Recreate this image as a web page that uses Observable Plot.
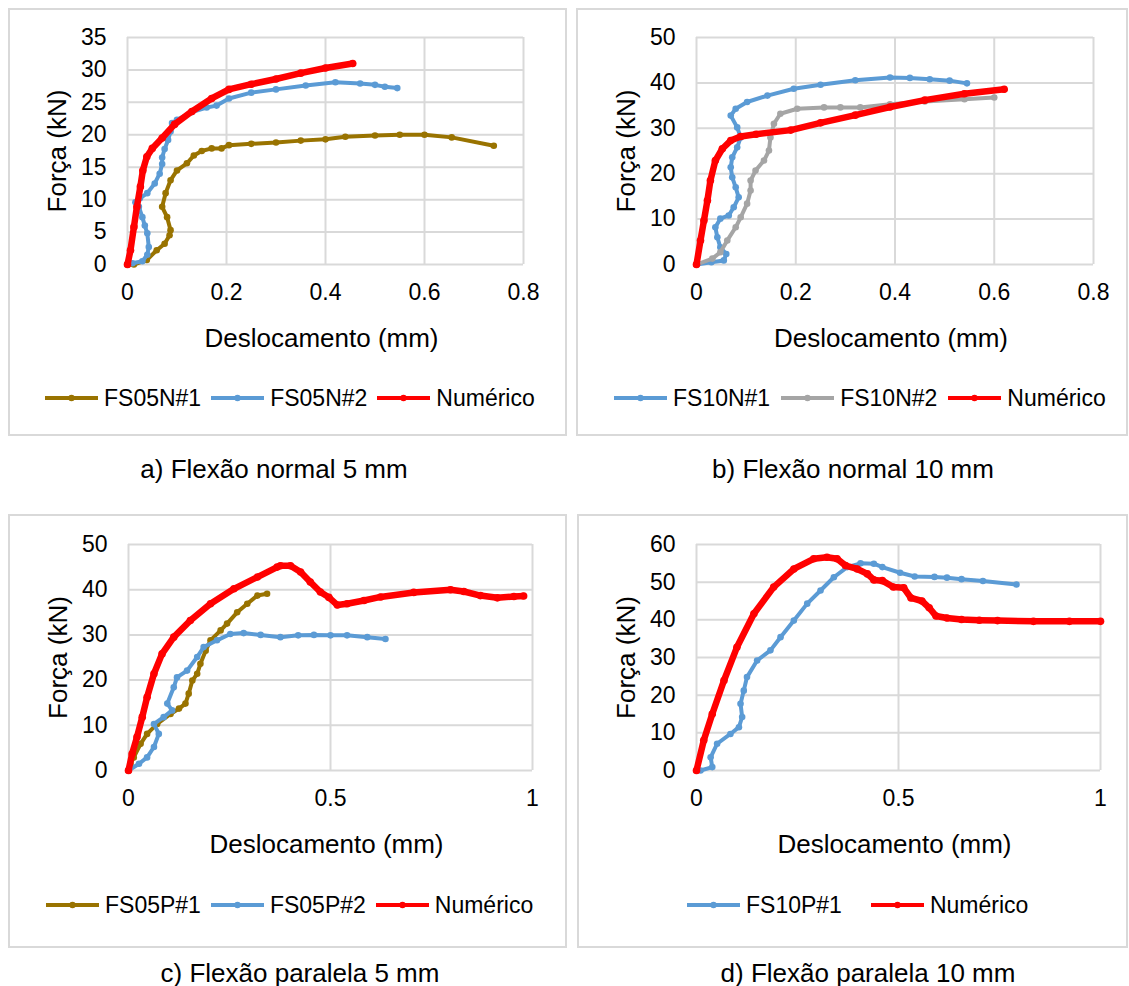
<!DOCTYPE html>
<html><head><meta charset="utf-8">
<script src="https://cdn.jsdelivr.net/npm/d3@7"></script>
<script src="https://cdn.jsdelivr.net/npm/@observablehq/plot@0.6"></script>
<style>
html,body{margin:0;padding:0;background:#fff;}
body{width:1129px;height:986px;position:relative;overflow:hidden;font-family:"Liberation Sans",Arial,sans-serif;color:#000;}
.box{position:absolute;border:2px solid #d9d9d9;box-sizing:border-box;}
.chart{position:absolute;}
.legend{position:absolute;display:flex;align-items:center;font-size:23px;line-height:23px;height:23px;white-space:nowrap;}
.legend .item{display:flex;align-items:center;}
.legend svg{display:block;margin-right:6px;}
.caption{position:absolute;font-size:26px;line-height:26px;white-space:nowrap;transform:translateX(-50%);}
</style></head><body>
<script>
// ---------- tick values ----------
const xTicksN = [0, 0.2, 0.4, 0.6, 0.8];
const xTicksP = [0, 0.5, 1];
const yTicksA = [0, 5, 10, 15, 20, 25, 30, 35];
const yTicksB = [0, 10, 20, 30, 40, 50];
const yTicksC = [0, 10, 20, 30, 40, 50];
const yTicksD = [0, 10, 20, 30, 40, 50, 60];

// ---------- series labels & colours ----------
const labelsA = ["FS05N#1", "FS05N#2", "Numérico"];
const labelsB = ["FS10N#1", "FS10N#2", "Numérico"];
const labelsC = ["FS05P#1", "FS05P#2", "Numérico"];
const labelsD = ["FS10P#1", "Numérico"];
const colorsA = ["#997300", "#5B9BD5", "#FF0000"];
const colorsB = ["#5B9BD5", "#A5A5A5", "#FF0000"];
const colorsC = ["#997300", "#5B9BD5", "#FF0000"];
const colorsD = ["#5B9BD5", "#FF0000"];
const captions = ["a) Flexão normal 5 mm", "b) Flexão normal 10 mm", "c) Flexão paralela 5 mm", "d) Flexão paralela 10 mm"];
const xTitle = "Deslocamento (mm)";
const yTitle = "Força (kN)";

// ---------- data: [deslocamento (mm), força (kN)] ----------
const fs05n1 = [[0,0],[0.013,0],[0.039,0.7],[0.059,2.2],[0.075,3.2],[0.085,4.5],[0.087,5.3],[0.08,7.3],[0.07,8.9],[0.077,11],[0.087,13],[0.1,14.5],[0.12,15.6],[0.134,16.8],[0.15,17.5],[0.17,17.9],[0.19,17.9],[0.205,18.4],[0.25,18.6],[0.3,18.8],[0.35,19.1],[0.4,19.3],[0.44,19.7],[0.5,19.9],[0.55,20.0],[0.6,20.0],[0.655,19.6],[0.74,18.3]];
const fs05n2 = [[0,0],[0.01,0.2],[0.03,0.5],[0.04,1.5],[0.043,2.7],[0.04,4.8],[0.035,6],[0.03,7.3],[0.023,8.9],[0.016,9.6],[0.025,10.2],[0.04,11],[0.055,12.5],[0.065,14],[0.07,15.5],[0.07,16.5],[0.075,17.8],[0.082,19.2],[0.087,20.5],[0.09,21.8],[0.1,22.3],[0.13,23.5],[0.16,24.2],[0.18,24.5],[0.205,25.6],[0.25,26.5],[0.3,27],[0.36,27.6],[0.42,28.1],[0.47,27.9],[0.5,27.7],[0.52,27.4],[0.545,27.2]];
const numA = [[0,0],[0.006,2.2],[0.013,5.8],[0.019,8.9],[0.026,12],[0.031,14.5],[0.039,16.6],[0.05,17.9],[0.07,19.5],[0.095,21.6],[0.13,23.6],[0.17,25.6],[0.205,27],[0.25,27.8],[0.3,28.6],[0.35,29.5],[0.4,30.3],[0.455,31.0]];

const fs10n1 = [[0,0],[0.03,0.5],[0.055,0.9],[0.06,2.3],[0.048,3.8],[0.042,6],[0.038,8.2],[0.048,10.1],[0.065,10.8],[0.075,12.6],[0.085,14.8],[0.079,17],[0.072,19.2],[0.069,21.4],[0.072,23.6],[0.082,25.8],[0.089,28],[0.082,30.2],[0.069,32.8],[0.079,34.3],[0.102,35.8],[0.143,37.2],[0.196,38.7],[0.25,39.6],[0.32,40.6],[0.39,41.2],[0.43,41.1],[0.47,40.8],[0.51,40.5],[0.545,39.9]];
const fs10n2 = [[0,0],[0.032,1.3],[0.048,2.7],[0.062,5.3],[0.079,8.2],[0.089,10.4],[0.102,13.4],[0.109,16.3],[0.109,18.5],[0.119,20.7],[0.136,22.9],[0.146,25.1],[0.149,28],[0.156,31],[0.169,33.2],[0.203,34.3],[0.257,34.6],[0.29,34.6],[0.33,34.6],[0.39,35.3],[0.46,35.9],[0.54,36.4],[0.6,36.8]];
const numB = [[0,0],[0.008,5.3],[0.015,9.7],[0.022,14.1],[0.028,18.5],[0.038,22.9],[0.052,25.5],[0.069,27.3],[0.089,28.2],[0.12,28.7],[0.19,29.6],[0.25,31.2],[0.32,32.9],[0.39,34.7],[0.46,36.2],[0.54,37.6],[0.62,38.6]];

const fs05p1 = [[0,0],[0.005,1.5],[0.013,2.9],[0.03,5.9],[0.046,8.1],[0.071,10.3],[0.104,12.5],[0.125,13.7],[0.141,14.8],[0.149,17],[0.158,19.9],[0.17,21.4],[0.178,23.6],[0.191,26.5],[0.203,28.8],[0.228,31],[0.244,32.5],[0.269,35],[0.294,36.9],[0.319,38.7],[0.343,39.1]];
const fs05p2 = [[0,0],[0.026,1.5],[0.046,2.9],[0.063,5.2],[0.075,8.1],[0.063,10.3],[0.087,11.8],[0.108,13.3],[0.096,14.8],[0.112,18.4],[0.12,20.6],[0.145,22.1],[0.17,25.1],[0.186,27.3],[0.219,28.8],[0.252,30.2],[0.285,30.4],[0.327,30.0],[0.376,29.5],[0.42,29.9],[0.459,30.0],[0.5,29.9],[0.541,29.9],[0.591,29.5],[0.636,29.1]];
const numC = [[0,0],[0.009,3.7],[0.021,7.4],[0.034,11.8],[0.046,16.2],[0.063,21.4],[0.083,25.8],[0.112,29.5],[0.153,33.2],[0.203,36.9],[0.261,40.2],[0.319,42.8],[0.368,45],[0.376,45.3],[0.401,45.3],[0.426,43.9],[0.45,41.7],[0.475,39.5],[0.496,38.3],[0.517,36.6],[0.541,36.9],[0.583,37.6],[0.624,38.4],[0.706,39.4],[0.797,40.0],[0.83,39.6],[0.871,38.7],[0.913,38.2],[0.954,38.5],[0.978,38.6]];

const fs10p1 = [[0.01,0],[0.039,0.9],[0.035,3.5],[0.051,7.1],[0.084,9.7],[0.105,11.5],[0.113,14.2],[0.109,17.7],[0.117,21.2],[0.125,24.8],[0.15,29.2],[0.183,31.9],[0.208,35.4],[0.241,39.8],[0.274,44.3],[0.307,47.8],[0.34,51.3],[0.373,54.0],[0.406,55.0],[0.439,54.9],[0.46,54.0],[0.504,52.5],[0.54,51.5],[0.589,51.4],[0.62,51.2],[0.656,50.8],[0.709,50.3],[0.792,49.4]];
const numD = [[0,0],[0.018,8.0],[0.039,15],[0.068,23.9],[0.1,32.7],[0.142,41.6],[0.191,48.7],[0.241,53.5],[0.29,56.2],[0.323,56.6],[0.348,56.2],[0.369,54.4],[0.398,53.5],[0.423,52.2],[0.439,50.6],[0.46,50.4],[0.487,48.7],[0.513,48.5],[0.531,45.8],[0.558,45.0],[0.576,43.2],[0.593,41.0],[0.62,40.5],[0.656,40.1],[0.7,39.9],[0.745,39.8],[0.834,39.6],[0.923,39.6],[1.0,39.6]];

// ---------- layout ----------
const panels = [
  {box:[8,8,567,436], plot:[127,37,523,264], xd:[0,0.8], yd:[0,35], xt:xTicksN, yt:yTicksA,
   data:[fs05n1, fs05n2, numA], labels:labelsA, colors:colorsA,
   legend:{x:45, y:398, gap:10}, cap:{x:274, y:456}},
  {box:[576,8,1128,436], plot:[696,37,1093,264], xd:[0,0.8], yd:[0,50], xt:xTicksN, yt:yTicksB,
   data:[fs10n1, fs10n2, numB], labels:labelsB, colors:colorsB,
   legend:{x:614, y:398, gap:11}, cap:{x:853, y:456}},
  {box:[8,514,567,948], plot:[128,544,532,770], xd:[0,1], yd:[0,50], xt:xTicksP, yt:yTicksC,
   data:[fs05p1, fs05p2, numC], labels:labelsC, colors:colorsC,
   legend:{x:46, y:905, gap:10}, cap:{x:300, y:960}},
  {box:[577,514,1128,948], plot:[696,544,1100,770], xd:[0,1], yd:[0,60], xt:xTicksP, yt:yTicksD,
   data:[fs10p1, numD], labels:labelsD, colors:colorsD,
   legend:{x:687, y:905, gap:29}, cap:{x:868, y:960}}
];

const FONT = "Liberation Sans, Arial, sans-serif";

for (const p of panels) {
  const [bl, bt, br, bb] = p.box;
  const [pl, pt, pr, pb] = p.plot;
  const box = document.createElement("div");
  box.className = "box";
  Object.assign(box.style, {left: bl+"px", top: bt+"px", width: (br-bl)+"px", height: (bb-bt)+"px"});
  document.body.appendChild(box);

  const mL = pl - bl, mT = pt - bt, mR = 22, mB = 100;
  const marks = [
    Plot.gridY(p.yt, {stroke: "#d9d9d9", strokeOpacity: 1, strokeWidth: 2}),
    Plot.gridX(p.xt, {stroke: "#d9d9d9", strokeOpacity: 1, strokeWidth: 2}),
    Plot.axisY(p.yt, {tickSize: 0, tickPadding: 21, fontSize: 23, label: null, tickFormat: d => String(d)}),
    Plot.axisX(p.xt, {tickSize: 0, tickPadding: 19, fontSize: 23, label: null, tickFormat: d => String(d)}),
    Plot.text([xTitle], {text: d => d, frameAnchor: "bottom", dy: 74, dx: -4, fontSize: 26, textAnchor: "middle", lineAnchor: "middle"}),
    Plot.text([yTitle], {text: d => d, frameAnchor: "left", dx: -70, rotate: -90, fontSize: 26, textAnchor: "middle", lineAnchor: "middle"})
  ];
  p.data.forEach((s, i) => {
    const isNum = p.labels[i] === "Numérico";
    marks.push(Plot.line(s, {x: d => d[0], y: d => d[1], stroke: p.colors[i], strokeWidth: isNum ? 6.5 : 4, curve: "linear"}));
    marks.push(Plot.dot(s, {x: d => d[0], y: d => d[1], fill: p.colors[i], r: isNum ? 3.8 : 3.3}));
  });
  const chart = Plot.plot({
    width: pr - bl + mR,
    height: pb - bt + mB,
    marginLeft: mL, marginTop: mT, marginRight: mR, marginBottom: mB,
    x: {domain: p.xd},
    y: {domain: p.yd},
    style: {fontFamily: FONT, fontSize: "23px", color: "#000", background: "transparent", overflow: "visible"},
    marks
  });
  chart.classList.add("chart");
  chart.style.left = bl + "px";
  chart.style.top = bt + "px";
  document.body.appendChild(chart);

  // legend
  const lg = document.createElement("div");
  lg.className = "legend";
  lg.style.left = p.legend.x + "px";
  lg.style.top = (p.legend.y - 11.5) + "px";
  p.labels.forEach((lab, i) => {
    const it = document.createElement("div");
    it.className = "item";
    if (i > 0) it.style.marginLeft = p.legend.gap + "px";
    it.innerHTML = `<svg width="53" height="12"><line x1="0" x2="53" y1="6" y2="6" stroke="${p.colors[i]}" stroke-width="4"/><circle cx="26.5" cy="6" r="3.2" fill="${p.colors[i]}"/></svg><span>${lab}</span>`;
    lg.appendChild(it);
  });
  document.body.appendChild(lg);
}

panels.forEach((p, i) => {
  const c = document.createElement("div");
  c.className = "caption";
  c.style.left = p.cap.x + "px";
  c.style.top = p.cap.y + "px";
  c.textContent = captions[i];
  document.body.appendChild(c);
});
</script>
</body></html>
